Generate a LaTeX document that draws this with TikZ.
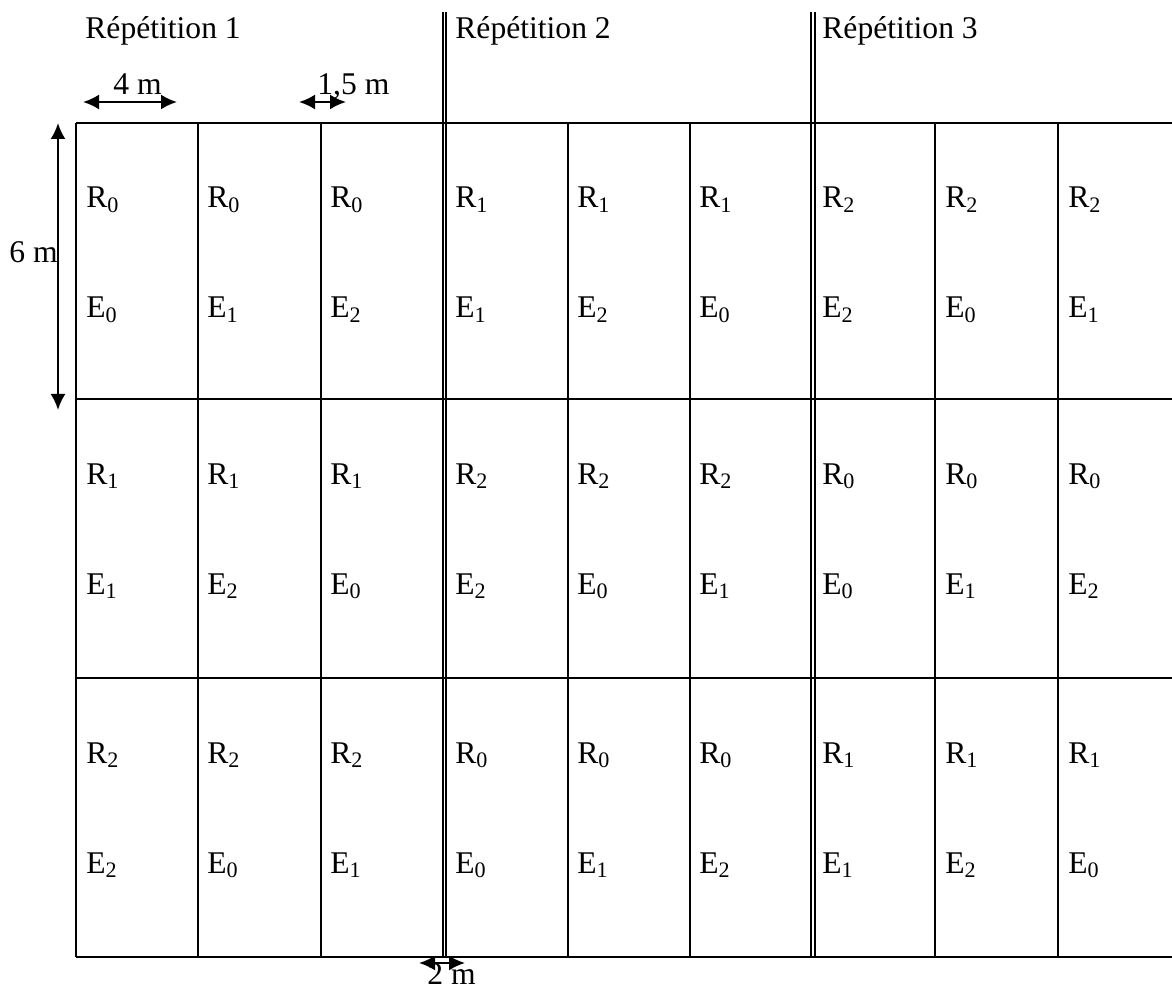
\documentclass[tikz,border=0pt]{standalone}
\usepackage{fontspec}
\setmainfont{Liberation Serif}
\usetikzlibrary{arrows.meta}
\begin{document}
\begin{tikzpicture}[x=0.5pt,y=-0.5pt,
  gridline/.style={line width=1.2pt},
  dblline/.style={line width=1pt},
  dim/.style={line width=1.1pt,{Latex[length=8pt,width=7.5pt]}-{Latex[length=8pt,width=7.5pt]}},
  lbl/.style={anchor=base west,inner sep=0pt,font=\fontsize{15.8}{18}\selectfont},
]
\useasboundingbox (0,0) rectangle (1172,989);
% horizontal lines
\foreach \y in {123,399,678,957} \draw[gridline] (76,\y) -- (1172,\y);
% single vertical lines
\foreach \x in {76,198,321,568,690,935,1058} \draw[gridline] (\x,123) -- (\x,957);
% double vertical lines
\foreach \x in {442.5,445.8,811.3,814.6} \draw[dblline] (\x,12) -- (\x,957);
% headers
\node[lbl] (h1) at (85,39) {Répétition 1};
\node[lbl] (h2) at (455,39) {Répétition 2};
\node[lbl] (h3) at (822,39) {Répétition 3};
% cell labels
\foreach \x/\a/\b [count=\i] in {86/0/0,207/0/1,330/0/2,455/1/1,577/1/2,699/1/0,822/2/2,945/2/0,1068/2/1}{
  \node[lbl] (ra\i) at (\x,208) {R\textsubscript{\a}};
  \node[lbl] (ea\i) at (\x,318) {E\textsubscript{\b}};
}
\foreach \x/\a/\b [count=\i] in {86/1/1,207/1/2,330/1/0,455/2/2,577/2/0,699/2/1,822/0/0,945/0/1,1068/0/2}{
  \node[lbl] (rb\i) at (\x,484) {R\textsubscript{\a}};
  \node[lbl] (eb\i) at (\x,594) {E\textsubscript{\b}};
}
\foreach \x/\a/\b [count=\i] in {86/2/2,207/2/0,330/2/1,455/0/0,577/0/1,699/0/2,822/1/1,945/1/2,1068/1/0}{
  \node[lbl] (rc\i) at (\x,763) {R\textsubscript{\a}};
  \node[lbl] (ec\i) at (\x,873) {E\textsubscript{\b}};
}
% dimensions
\coordinate (d4a) at (83,102); \coordinate (d4b) at (177,102);
\draw[dim] (d4a) -- (d4b);
\node[lbl] (l4) at (113,95) {4 m};
\coordinate (d15a) at (299,102); \coordinate (d15b) at (346,102);
\draw[dim] (d15a) -- (d15b);
\node[lbl] (l15) at (317,95) {1,5 m};
\coordinate (d6a) at (58,123); \coordinate (d6b) at (58,410);
\draw[dim] (d6a) -- (d6b);
\node[lbl] (l6) at (9,263) {6 m};
\coordinate (d2a) at (419,963); \coordinate (d2b) at (465,963);
\draw[dim] (d2a) -- (d2b);
\node[lbl] (l2) at (427,984) {2 m};
\end{tikzpicture}
\end{document}
